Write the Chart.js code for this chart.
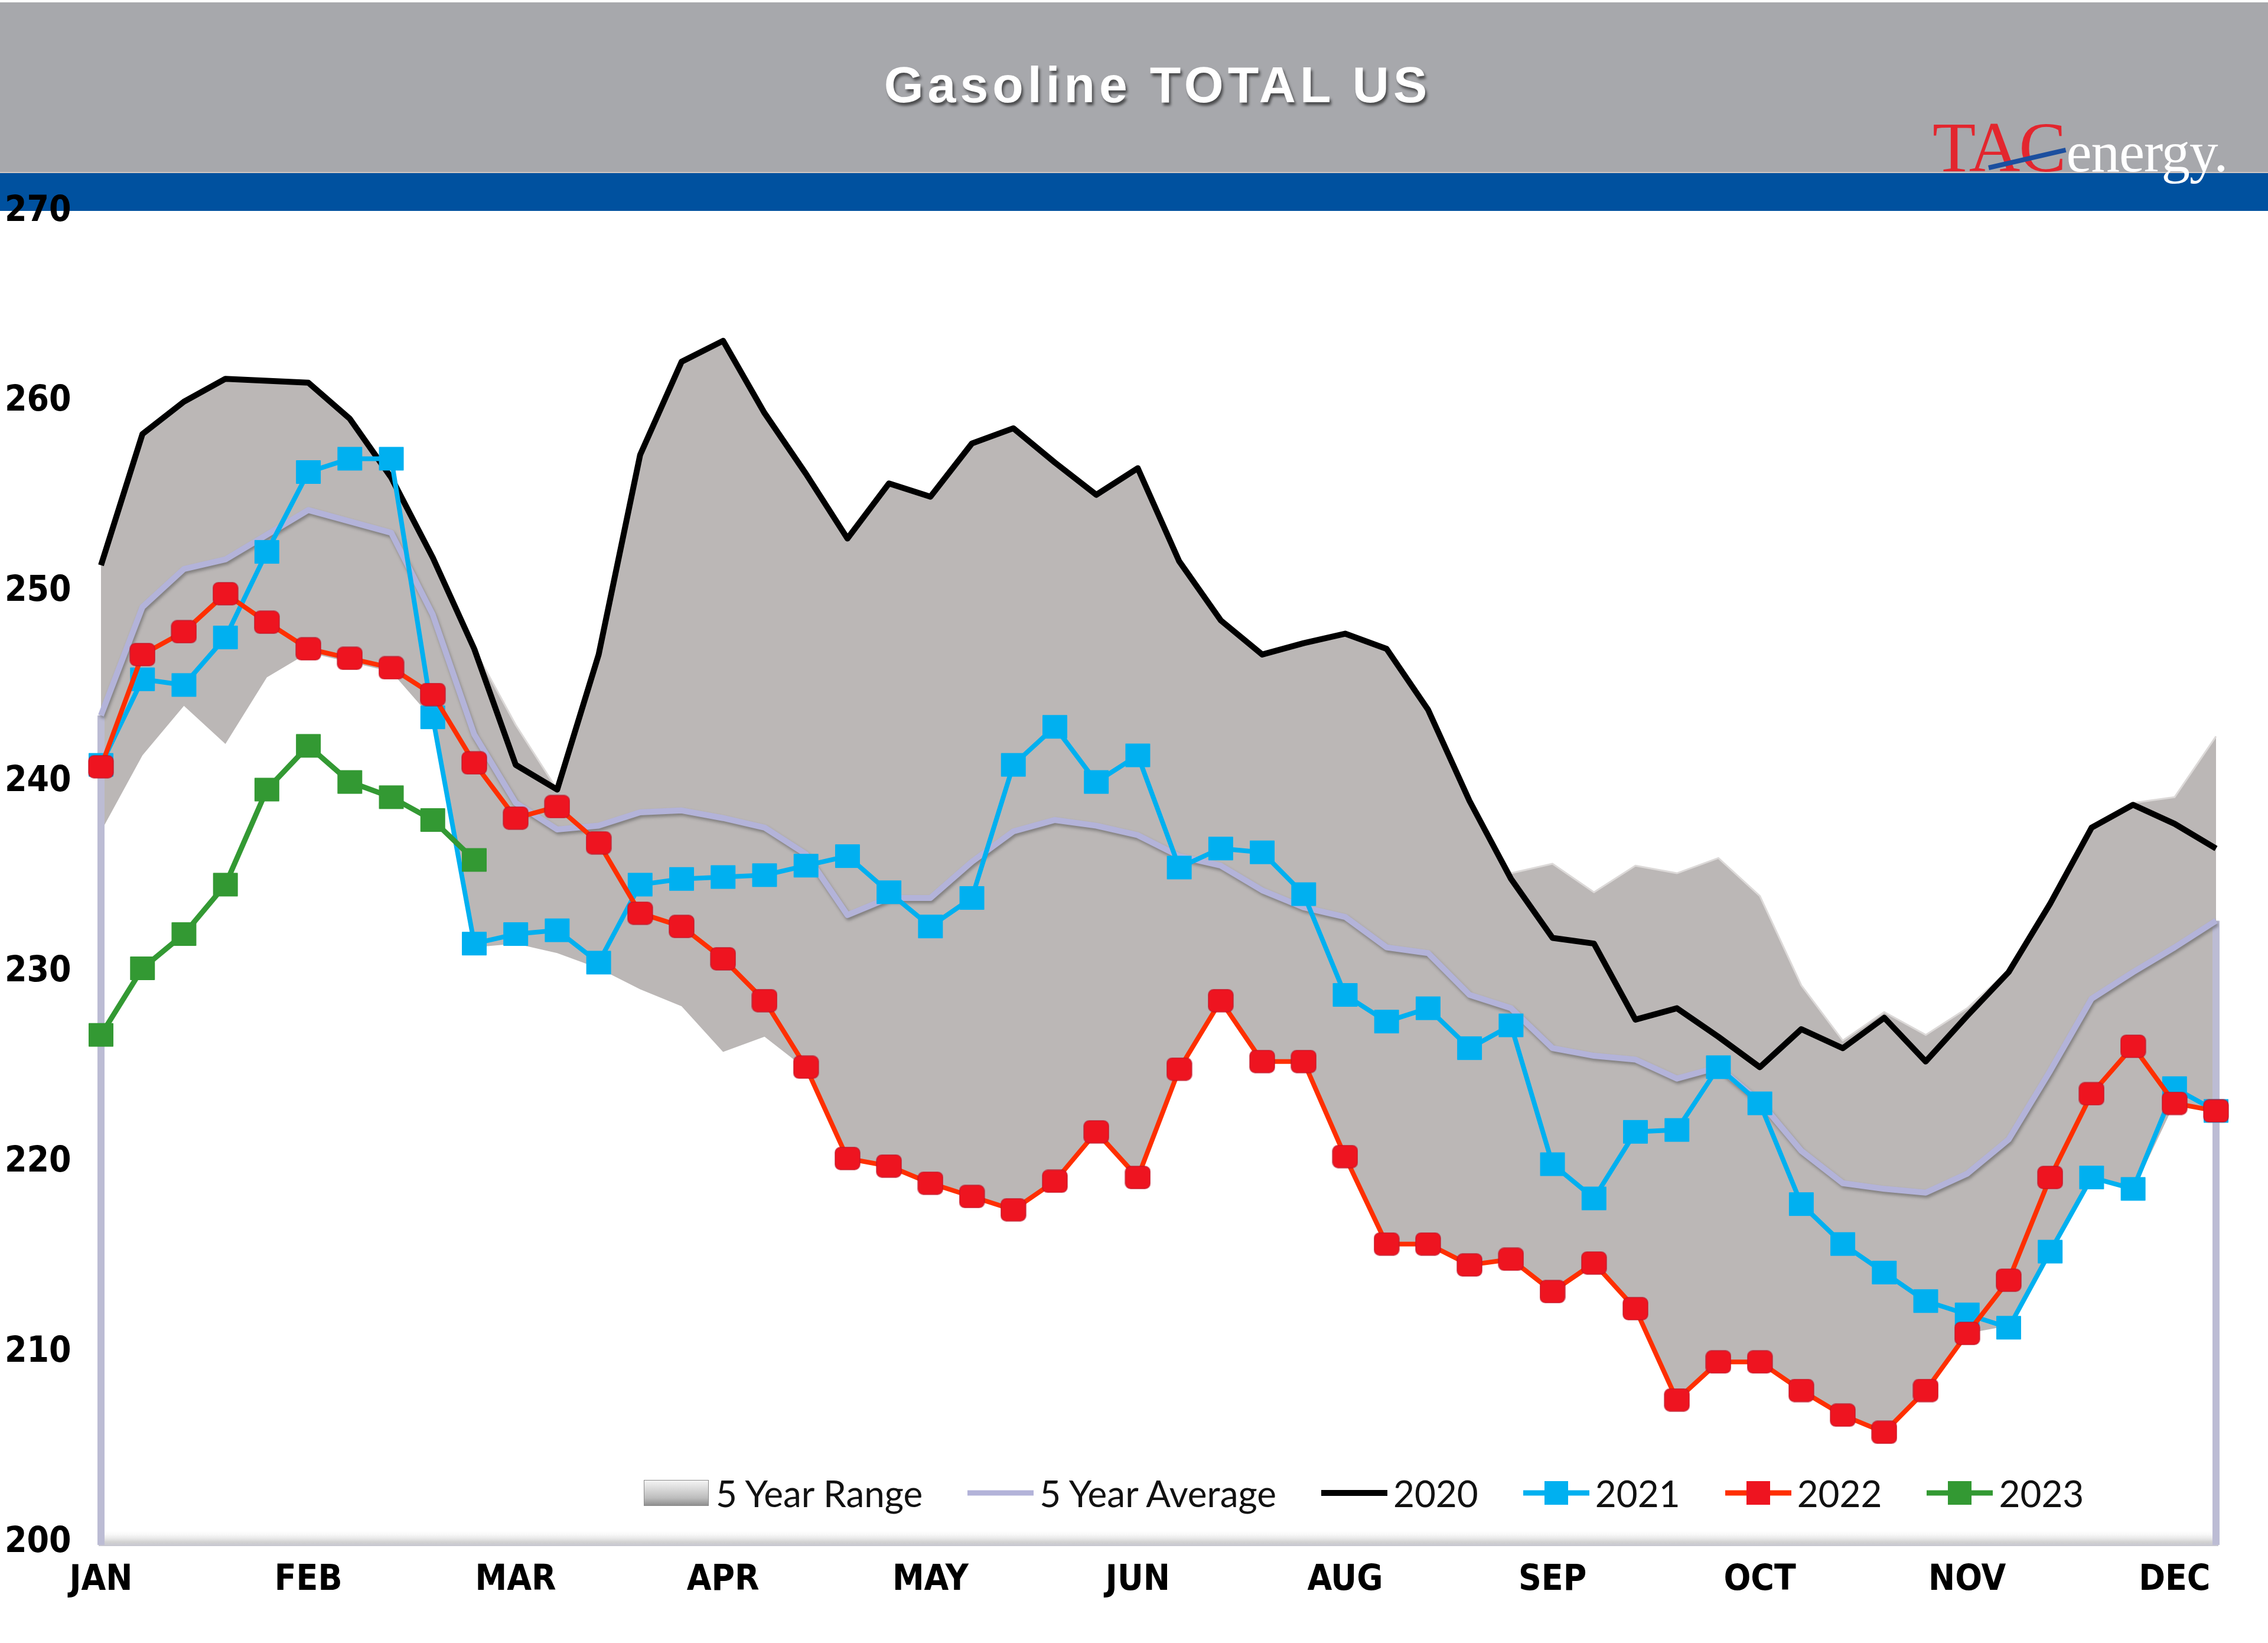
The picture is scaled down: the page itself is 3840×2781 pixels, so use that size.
<!DOCTYPE html>
<html>
<head>
<meta charset="utf-8">
<title>Gasoline TOTAL US</title>
<script src="https://cdn.jsdelivr.net/npm/chart.js@4.4.0/dist/chart.umd.min.js"></script>
<style>
  html, body { margin: 0; padding: 0; background: #fff; }
  body { width: 3840px; height: 2781px; position: relative; overflow: hidden; }
  #top-band { position: absolute; left: 0; top: 4px; width: 3840px; height: 288px; background: #a7a8ac; }
  #blue-band { position: absolute; left: 0; top: 291px; width: 3840px; height: 64px; background: #00519f; border-top: 2px solid #cdc6c4; }
  #title {
    position: absolute; left: 0; top: 100px; width: 3920px; text-align: center;
    font: bold 86px "Liberation Sans", Arial, sans-serif; letter-spacing: 7px; line-height: 1;
    color: #fff; text-shadow: 3px 5px 4px rgba(0, 0, 0, 0.55);
  }
  #logo {
    position: absolute; left: 3272px; top: 190px; white-space: nowrap; line-height: 1;
    font-family: "Liberation Serif", "DejaVu Serif", serif; font-size: 120px;
  }
  #logo .tac { color: #e3262e; letter-spacing: -2px; }
  #logo .energy { color: #fff; font-size: 97px; letter-spacing: -1px; margin-left: 2px; }
  #logo .slash {
    position: absolute; left: 95px; top: 90px; width: 134px; height: 8px; background: #1c4f9f;
    transform: rotate(-13deg); transform-origin: 0 50%;
  }
  #chart { position: absolute; left: 0; top: 0; }
  #legend {
    position: absolute; left: 1090px; top: 2497px; height: 60px; display: flex; align-items: center; gap: 76px;
    font: 62px Lato, "Open Sans", sans-serif; color: #111; white-space: nowrap;
  }
  #legend .item { display: flex; align-items: center; }
  #legend .icon { position: relative; width: 112px; height: 50px; margin-right: 10px; }
  #legend .line { position: absolute; left: 0; right: 0; top: 50%; transform: translateY(-50%); }
  #legend .mark { position: absolute; left: 36px; top: 5px; width: 40px; height: 40px; }
  #legend .box {
    position: absolute; left: 0; top: 3px; width: 108px; height: 42px; border: 1px solid #8a8a8a;
    background: linear-gradient(#f4f4f4, #bdbdbd 70%, #8f8f8f);
  }
</style>
</head>
<body>
<div id="top-band"></div>
<div id="blue-band"></div>
<div id="title">Gasoline TOTAL US</div>
<div id="logo"><span class="tac">TAC</span><span class="energy">energy.</span><div class="slash"></div></div>
<canvas id="chart" width="3840" height="2781"></canvas>
<div id="legend"></div>

<script>
// x axis: one category per week, a month tick every fifth week
const monthTicks = ['JAN', 'FEB', 'MAR', 'APR', 'MAY', 'JUN', 'AUG', 'SEP', 'OCT', 'NOV', 'DEC'];
const weekCount = 52;
const weeks = Array.from({ length: weekCount }, (_, i) => (i % 5 === 0 ? monthTicks[i / 5] : ''));

const yTicks = [200, 210, 220, 230, 240, 250, 260, 270];

// 5 year range (low / high)
const rangeLow = [
  237.4, 241.4, 244.0, 242.0, 245.5, 246.8, 246.3, 245.8, 243.3, 231.3,
  231.5, 231.0, 230.2, 229.1, 228.2, 225.8, 226.6, 224.9, 220.2, 219.8,
  218.9, 218.2, 217.5, 219.0, 221.6, 219.2, 224.9, 228.5, 225.2, 225.3,
  220.3, 215.8, 215.8, 214.5, 214.8, 213.1, 214.5, 212.2, 207.5, 209.5,
  209.4, 207.9, 206.6, 205.7, 207.9, 211.0, 211.4, 215.3, 219.3, 218.5,
  223.1, 222.7
];
const rangeHigh = [
  251.4, 258.3, 260.0, 261.2, 261.1, 261.0, 259.1, 256.0, 251.8, 247.0,
  243.0, 239.6, 246.7, 257.2, 262.1, 263.2, 259.4, 256.2, 252.8, 255.7,
  255.0, 257.8, 258.6, 256.8, 255.1, 256.5, 251.6, 248.5, 246.6, 247.3,
  247.8, 247.0, 243.8, 239.0, 235.2, 235.7, 234.2, 235.6, 235.2, 236.0,
  234.0, 229.3, 226.4, 227.9, 226.7, 228.1, 230.1, 233.6, 237.7, 238.9,
  239.2, 242.4
];

const avg5yr = [
  243.5, 249.2, 251.2, 251.7, 253.0, 254.3, 253.7, 253.1, 248.8, 242.5,
  238.9, 237.5, 237.7, 238.4, 238.5, 238.1, 237.6, 236.2, 233.0, 233.9,
  233.9, 235.8, 237.4, 238.0, 237.7, 237.2, 236.1, 235.6, 234.3, 233.4,
  232.9, 231.3, 231.0, 228.8, 228.1, 226.0, 225.6, 225.4, 224.4, 225.0,
  223.2, 220.6, 218.9, 218.6, 218.4, 219.4, 221.2, 224.8, 228.6, 230.0,
  231.3, 232.7
];

const y2020 = [
  251.4, 258.3, 260.0, 261.2, 261.1, 261.0, 259.1, 256.0, 251.8, 247.0,
  240.9, 239.6, 246.7, 257.2, 262.1, 263.2, 259.4, 256.2, 252.8, 255.7,
  255.0, 257.8, 258.6, 256.8, 255.1, 256.5, 251.6, 248.5, 246.7, 247.3,
  247.8, 247.0, 243.8, 239.0, 234.9, 231.8, 231.5, 227.5, 228.1, 226.6,
  225.0, 227.0, 226.0, 227.6, 225.3, 227.7, 230.0, 233.6, 237.6, 238.8,
  237.8, 236.5
];

const y2021 = [
  240.9, 245.4, 245.1, 247.6, 252.1, 256.3, 257.0, 257.0, 243.4, 231.5,
  232.0, 232.2, 230.5, 234.6, 234.9, 235.0, 235.1, 235.6, 236.1, 234.2,
  232.4, 233.9, 240.9, 242.9, 240.0, 241.4, 235.5, 236.5, 236.3, 234.1,
  228.8, 227.4, 228.1, 226.0, 227.2, 219.9, 218.1, 221.6, 221.7, 225.0,
  223.1, 217.8, 215.7, 214.2, 212.7, 212.0, 211.3, 215.3, 219.2, 218.6,
  223.9, 222.7
];

const y2022 = [
  240.8, 246.7, 247.9, 249.9, 248.4, 247.0, 246.5, 246.0, 244.6, 241.0,
  238.1, 238.7, 236.8, 233.1, 232.4, 230.7, 228.5, 225.0, 220.2, 219.8,
  218.9, 218.2, 217.5, 219.0, 221.6, 219.2, 224.9, 228.5, 225.3, 225.3,
  220.3, 215.7, 215.7, 214.6, 214.9, 213.2, 214.7, 212.3, 207.5, 209.5,
  209.5, 208.0, 206.7, 205.8, 208.0, 211.0, 213.8, 219.2, 223.6, 226.1,
  223.1, 222.7
];

const y2023 = [226.7, 230.2, 232.0, 234.6, 239.6, 241.9, 240.0, 239.2, 238.0, 235.9];

const colors = {
  range: '#bbb7b6',
  avg: '#b3b3d9',
  y2020: '#000000',
  y2021: '#00b0f0',
  y2022line: '#ff2f00',
  y2022mark: '#ee1420',
  y2023: '#339933'
};

function squareMarker(fill, w, h, r, edge) {
  const c = document.createElement('canvas');
  c.width = w;
  c.height = h;
  const g = c.getContext('2d');
  g.fillStyle = fill;
  g.beginPath();
  g.roundRect(1, 1, w - 2, h - 2, r);
  g.fill();
  if (edge) {
    g.strokeStyle = edge;
    g.lineWidth = 2;
    g.stroke();
  }
  return c;
}

const blueMark = squareMarker(colors.y2021, 44, 42, 1);
const redMark = squareMarker(colors.y2022mark, 44, 40, 9, 'rgba(190,20,40,0.6)');
const greenMark = squareMarker(colors.y2023, 44, 42, 1);

const AVG_INDEX = 2;

// floor band under the plot and the lavender end walls of the average
const decor = {
  id: 'decor',
  beforeDatasetsDraw(chart) {
    const { ctx, chartArea } = chart;
    const { left, right, bottom } = chartArea;
    const grad = ctx.createLinearGradient(0, bottom - 22, 0, bottom + 6);
    grad.addColorStop(0, 'rgba(255,255,255,0)');
    grad.addColorStop(0.75, '#d2d2d2');
    grad.addColorStop(1, '#c6c6d0');
    ctx.save();
    ctx.fillStyle = grad;
    ctx.fillRect(left - 4, bottom - 22, right - left + 8, 28);
    ctx.restore();
  },
  beforeDatasetDraw(chart, args) {
    if (args.index !== AVG_INDEX) return;
    const { ctx, scales } = chart;
    const x = scales.x, y = scales.y;
    const base = chart.chartArea.bottom + 4;
    ctx.save();
    ctx.strokeStyle = '#bcbcd4';
    ctx.lineWidth = 12;
    [0, weekCount - 1].forEach(i => {
      const px = x.getPixelForValue(i);
      ctx.beginPath();
      ctx.moveTo(px, y.getPixelForValue(avg5yr[i]));
      ctx.lineTo(px, base);
      ctx.stroke();
    });
    ctx.restore();
    ctx.save();
    ctx.shadowColor = 'rgba(60,60,60,0.45)';
    ctx.shadowOffsetX = 2;
    ctx.shadowOffsetY = 4;
    ctx.shadowBlur = 5;
  },
  afterDatasetDraw(chart, args) {
    if (args.index === AVG_INDEX) chart.ctx.restore();
  }
};

const lineBase = { pointRadius: 0, tension: 0, fill: false, borderJoinStyle: 'round' };
const tickFont = { family: '"Liberation Sans Narrow", "DejaVu Sans Condensed", "Liberation Sans", sans-serif', size: 60, weight: 'bold' };

new Chart(document.getElementById('chart'), {
  type: 'line',
  data: {
    labels: weeks,
    datasets: [
      { ...lineBase, label: 'range low', data: rangeLow, borderWidth: 0, borderColor: 'rgba(0,0,0,0)', order: 6 },
      { ...lineBase, label: '5 Year Range', data: rangeHigh, fill: '-1', backgroundColor: colors.range,
        borderWidth: 3, borderColor: '#dcd9d8', order: 5 },
      { ...lineBase, label: '5 Year Average', data: avg5yr, borderColor: colors.avg, borderWidth: 10, order: 4 },
      { ...lineBase, label: '2020', data: y2020, borderColor: colors.y2020, borderWidth: 10, order: 3 },
      { ...lineBase, label: '2021', data: y2021, borderColor: colors.y2021, borderWidth: 8,
        pointRadius: 20, pointStyle: blueMark, order: 2 },
      { ...lineBase, label: '2022', data: y2022, borderColor: colors.y2022line, borderWidth: 8,
        pointRadius: 20, pointStyle: redMark, order: 1 },
      { ...lineBase, label: '2023', data: y2023, borderColor: colors.y2023, borderWidth: 9,
        pointRadius: 20, pointStyle: greenMark, order: 0 }
    ]
  },
  options: {
    responsive: false,
    animation: false,
    devicePixelRatio: 1,
    events: [],
    layout: { padding: { top: 358, right: 88, bottom: 0, left: 8 } },
    plugins: {
      legend: { display: false },
      tooltip: { enabled: false },
      title: { display: false }
    },
    scales: {
      x: {
        type: 'category',
        offset: false,
        grid: { display: false, drawTicks: false },
        border: { display: false },
        ticks: { autoSkip: false, maxRotation: 0, padding: 28, color: '#000', font: tickFont },
        afterFit(scale) { scale.height = 170; }
      },
      y: {
        min: yTicks[0],
        max: yTicks[yTicks.length - 1],
        grid: { display: false, drawTicks: false },
        border: { display: false },
        afterBuildTicks(scale) { scale.ticks = yTicks.map(v => ({ value: v })); },
        ticks: { crossAlign: 'far', padding: 0, color: '#000', font: tickFont },
        afterFit(scale) { scale.width = 163; }
      }
    }
  },
  plugins: [decor]
});

// legend drawn as html inside the plot, under the series
const legendItems = [
  { text: '5 Year Range', kind: 'box' },
  { text: '5 Year Average', kind: 'line', color: colors.avg, width: 9 },
  { text: '2020', kind: 'line', color: colors.y2020, width: 10 },
  { text: '2021', kind: 'mark', color: colors.y2021, mark: colors.y2021, width: 9 },
  { text: '2022', kind: 'mark', color: colors.y2022line, mark: colors.y2022mark, width: 9 },
  { text: '2023', kind: 'mark', color: colors.y2023, mark: colors.y2023, width: 9 }
];

const legendEl = document.getElementById('legend');
legendItems.forEach(it => {
  const item = document.createElement('div');
  item.className = 'item';
  let icon = '<div class="icon">';
  if (it.kind === 'box') {
    icon += '<div class="box"></div>';
  } else {
    icon += `<div class="line" style="height:${it.width}px;background:${it.color}"></div>`;
    if (it.kind === 'mark') icon += `<div class="mark" style="background:${it.mark}"></div>`;
  }
  icon += '</div>';
  item.innerHTML = icon + `<span>${it.text}</span>`;
  legendEl.appendChild(item);
});
</script>
</body>
</html>
